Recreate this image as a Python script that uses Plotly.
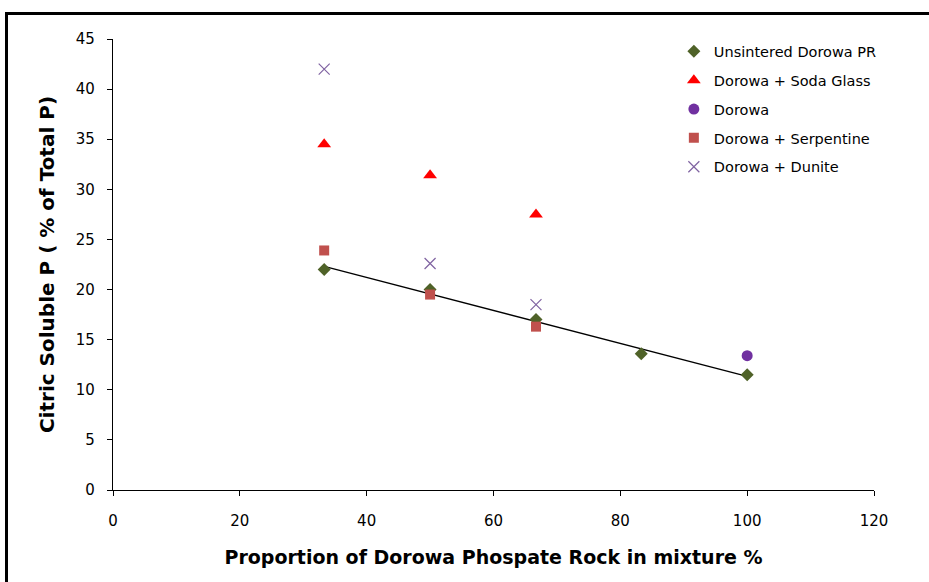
import numpy as np
import plotly.graph_objects as go

x_mix = [33.3, 50, 66.7]
x_unsint = [33.3, 50, 66.7, 83.3, 100]
y_unsint = [22.0, 20.0, 17.0, 13.6, 11.5]
y_soda = [34.5, 31.4, 27.5]
x_dorowa = [100]
y_dorowa = [13.4]
y_serp = [23.9, 19.5, 16.3]
y_dunite = [42.0, 22.6, 18.5]

x_ticks = [0, 20, 40, 60, 80, 100, 120]
y_ticks = [0, 5, 10, 15, 20, 25, 30, 35, 40, 45]

slope, intercept = np.polyfit(x_unsint, y_unsint, 1)
trend_x = [min(x_unsint), max(x_unsint)]
trend_y = [slope * v + intercept for v in trend_x]

fig = go.Figure()
fig.add_trace(go.Scatter(x=trend_x, y=trend_y, mode="lines", line=dict(color="black", width=1.3),
                         showlegend=False, hoverinfo="skip"))
fig.add_trace(go.Scatter(x=x_unsint, y=y_unsint, mode="markers", name="Unsintered Dorowa PR", legendgroup="a",
                         marker=dict(symbol="diamond", size=10, color="#4F6228")))
fig.add_trace(go.Scatter(x=x_mix, y=y_soda, mode="markers", name="Dorowa + Soda Glass", legendgroup="b",
                         marker=dict(symbol="triangle-up", size=12, color="#FF0000")))
fig.add_trace(go.Scatter(x=x_dorowa, y=y_dorowa, mode="markers", name="Dorowa", legendgroup="c",
                         marker=dict(symbol="circle", size=11, color="#7030A0")))
fig.add_trace(go.Scatter(x=x_mix, y=y_serp, mode="markers", name="Dorowa + Serpentine", legendgroup="d",
                         marker=dict(symbol="square", size=10, color="#C0504D")))
fig.add_trace(go.Scatter(x=x_mix, y=y_dunite, mode="markers", name="Dorowa + Dunite", legendgroup="e",
                         marker=dict(symbol="x-thin", size=11, color="#8064A2",
                                     line=dict(color="#8064A2", width=1.2))))

tick_font = dict(family="DejaVu Sans", size=15, color="black")

fig.update_layout(
    width=929, height=582,
    margin=dict(l=113, r=55, t=39, b=92),
    paper_bgcolor="white", plot_bgcolor="white",
    xaxis=dict(range=[0, 120], tickvals=x_ticks, showgrid=False, zeroline=False,
               showline=True, linecolor="black", linewidth=1.3,
               ticks="outside", ticklen=5, tickcolor="black", tickfont=tick_font,
               ticklabelstandoff=12,
               title=dict(text="<b>Proportion of Dorowa Phospate Rock in mixture %</b>",
                          font=dict(family="DejaVu Sans", size=19, color="black"), standoff=21)),
    yaxis=dict(range=[0, 45], tickvals=y_ticks, showgrid=False, zeroline=False,
               showline=True, linecolor="black", linewidth=1.3,
               ticks="outside", ticklen=5, tickcolor="black", tickfont=tick_font,
               ticklabelstandoff=9,
               title=dict(text="<b>Citric Soluble P ( % of Total P)</b>",
                          font=dict(family="DejaVu Sans", size=20, color="black"), standoff=15)),
    legend=dict(x=0.737, y=1.008, xanchor="left", yanchor="top", bgcolor="rgba(0,0,0,0)",
                font=dict(family="DejaVu Sans", size=14.5, color="black"),
                tracegroupgap=7, itemwidth=30),
    shapes=[dict(type="rect", xref="paper", yref="paper",
                 x0=(6.5 - 113) / 761, x1=(960 - 113) / 761,
                 y0=(490 - 640) / 451, y1=(490 - 13.5) / 451,
                 line=dict(color="black", width=3), fillcolor="rgba(0,0,0,0)", layer="below")],
)

fig.write_html("out.html", config={"displayModeBar": False},
               post_script="document.body.style.margin='0';document.body.style.padding='0';")
